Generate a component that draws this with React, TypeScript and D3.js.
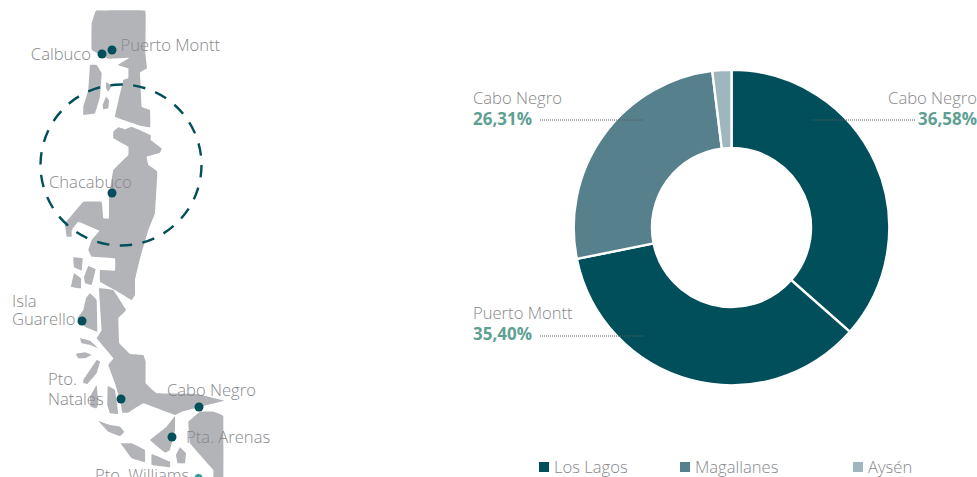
import React from "react";
import * as d3 from "d3";

const W = 977, H = 477;
const sliceNames = ["Cabo Negro", "Puerto Montt", "Cabo Negro", "Otros"];
const sliceValues = [36.58, 35.4, 26.31, 1.95];
const sliceGroups = ["Los Lagos", "Los Lagos", "Magallanes", "Aysén"];
const legendNames = ["Los Lagos", "Magallanes", "Aysén"];
const groupColors = ["#014f5a", "#56808b", "#9fb6bf"];

// Map outlines, in 3x crop coordinates (upper crop starts at y=0, lower at y=230)
const upperShapes: number[][][] = [
  [[288,32],[436,32],[436,160],[441,205],[420,218],[425,320],[450,330],[451,382],[425,378],[345,350],[370,240],[385,235],[385,205],[353,195],[388,173],[325,176],[275,150],[275,70]],
  [[270,195],[290,195],[305,220],[300,290],[285,340],[250,345],[250,320],[265,270]],
  [[318,245],[335,258],[325,275],[318,265]],
  [[318,290],[327,300],[325,325],[310,328],[308,315]],
  [[340,395],[355,382],[375,388],[395,380],[452,405],[452,420],[485,445],[480,458],[440,470],[445,495],[472,515],[465,640],[445,690],[420,775],[405,840],[405,885],[395,900],[345,870],[300,845],[300,810],[345,812],[345,775],[275,770],[265,750],[275,720],[298,692],[235,665],[215,690],[215,710],[200,710],[195,670],[250,605],[305,605],[310,655],[327,655],[327,590],[340,510],[385,465],[385,440],[340,415]],
];
const lowerShapes: number[][][] = [
  [[220,82],[248,85],[245,122],[222,112]],
  [[265,108],[287,118],[275,165],[255,160],[252,140]],
  [[222,130],[243,145],[243,175],[213,170]],
  [[270,190],[290,210],[292,305],[255,290],[232,265],[250,240],[258,205]],
  [[297,175],[340,180],[378,240],[355,265],[358,340],[390,372],[430,375],[437,395],[437,460],[470,490],[590,492],[672,512],[600,530],[545,545],[525,555],[430,520],[385,548],[367,548],[362,520],[345,460],[325,405],[340,385],[290,325],[305,300]],
  [[240,325],[270,332],[295,355],[270,345],[245,340]],
  [[228,372],[255,367],[275,375],[255,385],[235,385]],
  [[290,390],[300,395],[290,430],[262,462],[250,460],[250,450]],
  [[290,465],[295,520],[290,535],[272,530],[270,500]],
  [[323,468],[345,480],[355,552],[330,550],[322,525]],
  [[295,573],[330,585],[360,590],[373,605],[360,618],[325,605]],
  [[525,558],[525,600],[510,660],[495,668],[450,630],[500,590]],
  [[362,640],[395,640],[435,660],[435,697],[395,685]],
  [[455,672],[510,695],[510,712],[455,705]],
  [[540,652],[558,670],[555,700],[533,700],[528,675]],
  [[565,575],[600,545],[640,545],[670,558],[670,745],[640,745],[640,720],[570,640]],
];

const cities = [
  { name: ["Calbuco"], x: 102, y: 54, tx: 91, ty: 60, anchor: "end", gap: 0 },
  { name: ["Puerto Montt"], x: 112, y: 50, tx: 120.5, ty: 51, anchor: "start", gap: 0 },
  { name: ["Chacabuco"], x: 112, y: 193, tx: 49, ty: 188, anchor: "start", gap: 0 },
  { name: ["Isla", "Guarello"], x: 82, y: 321, tx: 12, ty: 307, anchor: "start", gap: 18 },
  { name: ["Pto.", "Natales"], x: 121, y: 399, tx: 48, ty: 385, anchor: "start", gap: 20 },
  { name: ["Cabo Negro"], x: 199, y: 407, tx: 167, ty: 396, anchor: "start", gap: 0 },
  { name: ["Pta. Arenas"], x: 172, y: 437, tx: 186, ty: 443, anchor: "start", gap: 0 },
  { name: ["Pto. Williams"], x: 198.5, y: 478, tx: 95, ty: 481, anchor: "start", gap: 0 },
];

const font = "'Open Sans', sans-serif";
const gray = "#87888b";
const lineGen = d3.line().curve(d3.curveCardinalClosed.tension(0.9));

export default function App() {
  const cx = 731.5, cy = 227.5, rO = 157.8, rI = 79.5;
  const arcs = d3.pie<number>().sort(null)(sliceValues);
  const arc = d3.arc<d3.PieArcDatum<number>>().innerRadius(rI).outerRadius(rO);
  const sx = d3.scaleLinear().domain([0, 3]).range([0, 1]);
  const sy = (o: number) => d3.scaleLinear().domain([0, 3]).range([o, o + 1]);
  const path = (pts: number[][], o: number) => {
    const y = sy(o);
    return lineGen(pts.map((p) => [sx(p[0]), y(p[1])] as [number, number])) || "";
  };
  const labels = [
    { i: 0, tx: 977, anchor: "end", ty: 104, py: 125, x1: 812, x2: 915 },
    { i: 2, tx: 473, anchor: "start", ty: 104, py: 125, x1: 540, x2: 643 },
    { i: 1, tx: 473, anchor: "start", ty: 319, py: 340, x1: 540, x2: 643 },
  ];
  const lineY = [120, 120, 336];
  const legendX = [539, 680, 853];
  return (
    <svg width={W} height={H} style={{ position: "absolute", left: 0, top: 0, background: "#fff" }} fontFamily={font}>
      {upperShapes.map((s, i) => <path key={i} d={path(s, 0)} fill="#b3b4b8" />)}
      {lowerShapes.map((s, i) => <path key={i} d={path(s, 230)} fill="#b3b4b8" />)}
      <circle cx={121} cy={165} r={80.5} fill="none" stroke="#014f5a" strokeWidth={2.4} strokeDasharray="12.5 10.5" />
      {cities.map((c) => (
        <g key={c.name.join()}>
          <circle cx={c.x} cy={c.y} r={4.5} fill={c.name[0] === "Pto. Williams" ? "#2f9c9a" : "#014f5a"} stroke={c.name[0] === "Pto. Williams" ? "#fff" : "none"} strokeWidth={1} />
          {c.name.map((t, j) => (
            <text key={t} x={c.tx} y={c.ty + j * c.gap} textAnchor={c.anchor as any} fontSize={16.6} fontWeight={300} fill={gray}>{t}</text>
          ))}
        </g>
      ))}
      <g transform={`translate(${cx},${cy})`}>
        {arcs.map((a, i) => (
          <path key={i} d={arc(a)!} fill={groupColors[legendNames.indexOf(sliceGroups[i])]} stroke="#fff" strokeWidth={2.4} />
        ))}
      </g>
      {labels.map((l, k) => (
        <g key={k}>
          <text x={l.tx} y={l.ty} textAnchor={l.anchor as any} fontSize={16.6} fontWeight={300} fill={gray}>{sliceNames[l.i]}</text>
          <text x={l.tx} y={l.py} textAnchor={l.anchor as any} fontSize={17} fontWeight={700} fill="#5f9f94">{sliceValues[l.i].toFixed(2).replace(".", ",")}%</text>
          <line x1={l.x1} x2={l.x2} y1={lineY[k]} y2={lineY[k]} stroke="#5a5a5c" strokeWidth={1} strokeDasharray="1 1" />
        </g>
      ))}
      {legendNames.map((n, i) => (
        <g key={n}>
          <rect x={legendX[i]} y={462} width={10} height={10} fill={groupColors[i]} />
          <text x={legendX[i] + 15} y={473} fontSize={16.6} fontWeight={300} fill={gray}>{n}</text>
        </g>
      ))}
    </svg>
  );
}
